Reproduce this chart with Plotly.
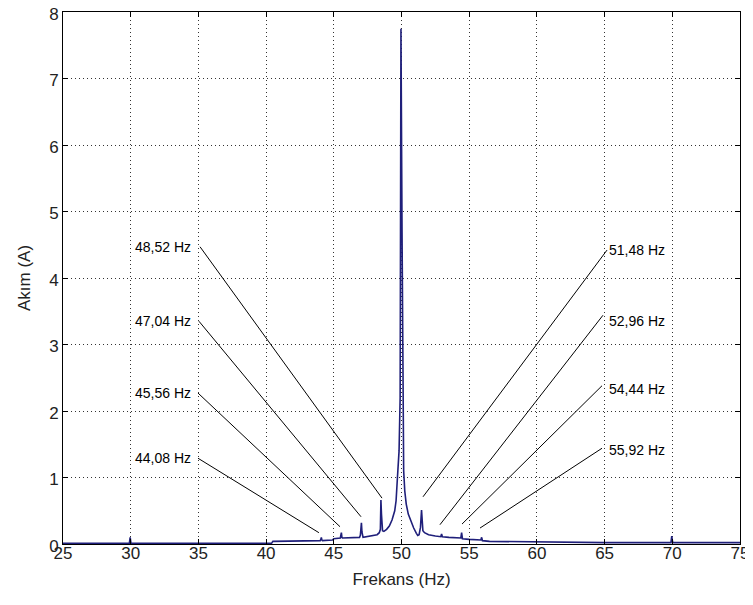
import plotly.graph_objects as go

# Spectrum (frequency in Hz, current amplitude in A)
freq = [25.0, 29.9, 29.96, 30.02, 30.1, 40.4, 40.5, 44.0, 44.04, 44.08, 44.12, 44.16,
        44.9, 45.0, 45.48, 45.52, 45.56, 45.6, 45.64, 46.9, 46.96, 47.0, 47.04, 47.08,
        47.12, 47.16, 48.2, 48.36, 48.44, 48.48, 48.52, 48.56, 48.6, 48.7, 48.9, 49.1,
        49.3, 49.5, 49.6, 49.7, 49.82, 49.9, 49.96, 50.04, 50.1, 50.16, 50.24, 50.35,
        50.5, 50.7, 50.9, 51.1, 51.2, 51.3, 51.4, 51.48, 51.52, 51.58, 51.7, 52.0, 52.5,
        52.9, 52.96, 53.02, 53.5, 54.0, 54.38, 54.44, 54.5, 55.0, 55.86, 55.92, 55.98,
        56.5, 60.0, 65.0, 69.9, 69.96, 70.02, 70.1, 75.0]
amp = [0.01, 0.01, 0.1, 0.01, 0.01, 0.01, 0.04, 0.05, 0.07, 0.1, 0.06, 0.05,
       0.06, 0.08, 0.09, 0.12, 0.17, 0.1, 0.09, 0.1, 0.13, 0.22, 0.32, 0.18,
       0.12, 0.1, 0.14, 0.17, 0.22, 0.66, 0.45, 0.24, 0.2, 0.19, 0.22, 0.27,
       0.36, 0.5, 0.65, 1.0, 1.4, 2.2, 7.75, 4.7, 1.6, 1.1, 0.8, 0.6,
       0.45, 0.33, 0.24, 0.16, 0.13, 0.14, 0.25, 0.51, 0.35, 0.2, 0.17, 0.14, 0.12,
       0.11, 0.15, 0.11, 0.1, 0.09, 0.09, 0.17, 0.08, 0.07, 0.06, 0.1, 0.05,
       0.04, 0.03, 0.02, 0.02, 0.12, 0.03, 0.02, 0.02]

# Sideband labels
labels = ["48,52 Hz", "47,04 Hz", "45,56 Hz", "44,08 Hz",
          "51,48 Hz", "52,96 Hz", "54,44 Hz", "55,92 Hz"]
tip_x = [48.56, 47.01, 45.46, 43.9, 51.59, 52.84, 54.47, 55.8]
tip_y = [0.69, 0.41, 0.26, 0.17, 0.71, 0.29, 0.30, 0.24]
line_x = [35.12, 35.04, 34.97, 34.97, 65.18, 64.88, 64.81, 64.81]
line_y = [4.47, 3.35, 2.27, 1.29, 4.42, 3.44, 2.38, 1.44]
text_x = [34.6, 34.6, 34.6, 34.6, 65.2, 65.2, 65.2, 65.2]
text_y = [4.47, 3.35, 2.27, 1.29, 4.42, 3.35, 2.33, 1.41]

x_ticks = [25, 30, 35, 40, 45, 50, 55, 60, 65, 70, 75]
y_ticks = [0, 1, 2, 3, 4, 5, 6, 7, 8]

fig = go.Figure()

for i in range(len(labels)):
    fig.add_trace(go.Scatter(x=[line_x[i], tip_x[i]], y=[line_y[i], tip_y[i]],
                             mode="lines", line=dict(color="black", width=1),
                             showlegend=False, hoverinfo="skip"))

fig.add_trace(go.Scatter(x=freq, y=amp, mode="lines",
                         line=dict(color="#1f1f7a", width=1.6),
                         showlegend=False))

for i in range(len(labels)):
    fig.add_annotation(x=text_x[i], y=text_y[i], text=labels[i], showarrow=False,
                       xanchor="right" if i < 4 else "left", yanchor="middle",
                       font=dict(size=14, color="black",
                                 family="Liberation Sans, Arial, sans-serif"))

axis_common = dict(showline=True, linecolor="black", linewidth=1, mirror="ticks",
                   ticks="inside", ticklen=5, tickcolor="black",
                   showgrid=True, gridcolor="#333", griddash="1px,3px", gridwidth=1,
                   zeroline=False, automargin=False, ticklabeloverflow="allow",
                   tickfont=dict(size=17, color="#222",
                                 family="Liberation Sans, Arial, sans-serif"))

fig.update_xaxes(range=[25, 75], tickvals=x_ticks, ticktext=[str(v) for v in x_ticks],
                 ticklabelstandoff=-6,
                 title=dict(text="Frekans (Hz)", standoff=10,
                            font=dict(size=17, color="#222",
                                      family="Liberation Sans, Arial, sans-serif")),
                 **axis_common)
fig.update_yaxes(range=[0, 8], tickvals=y_ticks, ticktext=[str(v) for v in y_ticks],
                 ticklabelshift=2,
                 title=dict(text="Akım (A)", standoff=14,
                            font=dict(size=17, color="#222",
                                      family="Liberation Sans, Arial, sans-serif")),
                 **axis_common)

# page body adds an 8px offset, so the figure is sized to fit the 753x605 window
fig.update_layout(width=745, height=597,
                  margin=dict(l=55, r=13, t=4, b=61),
                  paper_bgcolor="white", plot_bgcolor="white")

fig.write_html("out.html")
